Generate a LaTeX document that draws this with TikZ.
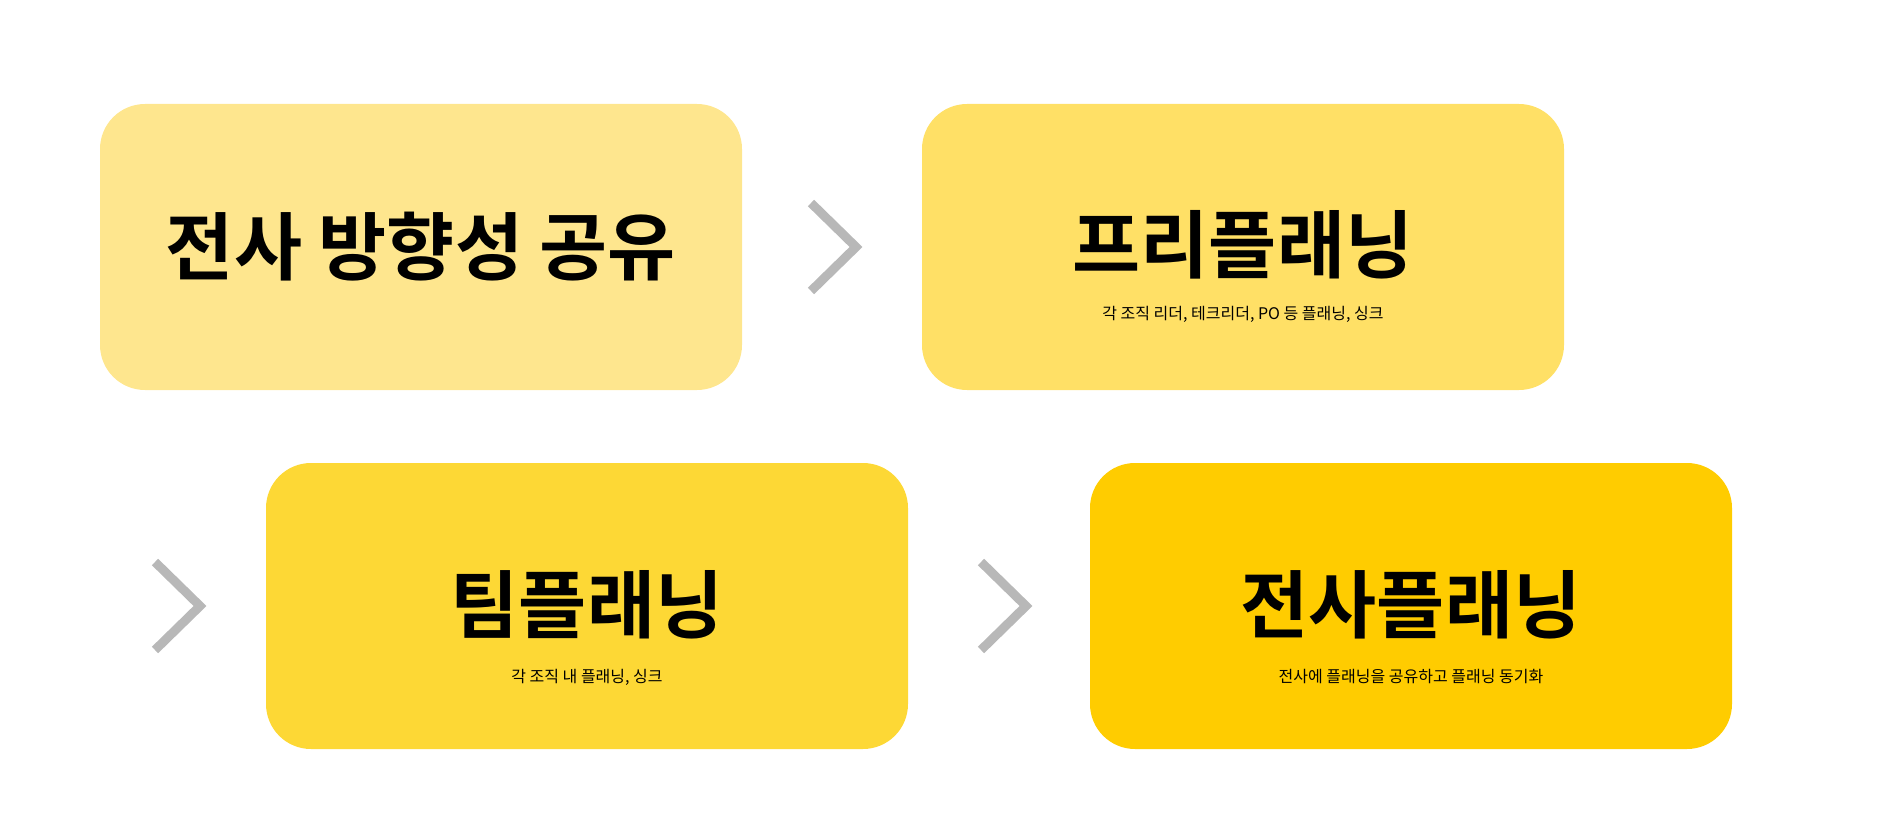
\documentclass[tikz,border=0pt]{standalone}
\usepackage{fontspec}
\newfontfamily\krbold{Noto Sans CJK KR Bold}
\newfontfamily\kr{Noto Sans CJK KR}
\definecolor{stepA}{HTML}{FEE68E}
\definecolor{stepB}{HTML}{FFE066}
\definecolor{stepC}{HTML}{FDD835}
\definecolor{stepD}{HTML}{FFCC00}
\definecolor{chevgray}{HTML}{B8B8B8}
\tikzset{
  stepbox/.style={rounded corners=45pt, minimum width=642pt, minimum height=286pt, inner sep=0pt},
  title/.style={font=\krbold\fontsize{74}{80}\selectfont},
  sub/.style={font=\kr\fontsize{16}{18}\selectfont},
  chev/.style={draw=chevgray, line width=9pt}
}
\begin{document}
\begin{tikzpicture}[x=1pt,y=-1pt]
	\useasboundingbox (0,0) rectangle (1888,832);
	\node[stepbox, fill=stepA] (share) at (421,247) {};
	\node[stepbox, fill=stepB] (pre) at (1243,247) {};
	\node[stepbox, fill=stepC] (team) at (587,606) {};
	\node[stepbox, fill=stepD] (whole) at (1411,606) {};
	\node[title] (shareT) at (421,247) {전사 방향성 공유};
	\node[title] (preT) at (1243,245) {프리플래닝};
	\node[sub] (preS) at (1243,314) {각 조직 리더, 테크리더, PO 등 플래닝, 싱크};
	\node[title] (teamT) at (587,605) {팀플래닝};
	\node[sub] (teamS) at (587,677) {각 조직 내 플래닝, 싱크};
	\node[title] (wholeT) at (1411,605) {전사플래닝};
	\node[sub] (wholeS) at (1411,677) {전사에 플래닝을 공유하고 플래닝 동기화};
	% chevrons
	\coordinate (c1) at (856,247);
	\coordinate (c2) at (200,606);
	\coordinate (c3) at (1026,606);
	\foreach \c in {c1,c2,c3}
		\draw[chev] ([shift={(-45,-44)}]\c) -- (\c) -- ([shift={(-45,44)}]\c);
\end{tikzpicture}
\end{document}
